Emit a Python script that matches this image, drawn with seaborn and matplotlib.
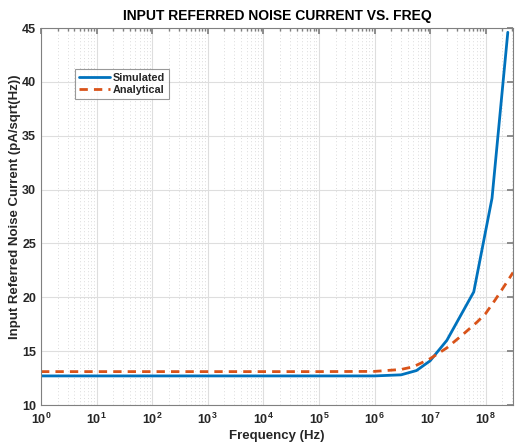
import numpy as np
import pandas as pd
import matplotlib
matplotlib.use("Agg")
import matplotlib.pyplot as plt
import seaborn as sns
from matplotlib.ticker import FixedLocator, NullFormatter, NullLocator, LogFormatterSciNotation

sim_freq = [1, 1e1, 1e2, 1e3, 1e4, 1e5, 1e6, 3e6, 5.7e6, 1e7, 2e7, 6.1e7, 1.3e8, 2.5e8]
sim_val = [12.7, 12.7, 12.7, 12.7, 12.7, 12.7, 12.7, 12.8, 13.2, 14.1, 16.0, 20.5, 29.2, 44.6]

ana_freq = [1, 1e1, 1e2, 1e3, 1e4, 1e5, 1e6, 3e6, 5e6, 1e7, 2e7, 4e7, 7e7, 1e8, 1.5e8, 2.4e8, 3.1e8]
ana_val = [13.1, 13.1, 13.1, 13.1, 13.1, 13.1, 13.12, 13.3, 13.55, 14.3, 15.3, 16.6, 17.7, 18.5, 19.8, 21.4, 22.3]

yticks = [10, 15, 20, 25, 30, 35, 40, 45]
xticks = [1, 1e1, 1e2, 1e3, 1e4, 1e5, 1e6, 1e7, 1e8]

df = pd.concat([
    pd.DataFrame({"f": sim_freq, "v": sim_val, "s": "Simulated"}),
    pd.DataFrame({"f": ana_freq, "v": ana_val, "s": "Analytical"}),
])

sns.set_theme(style="white")
plt.rcParams['font.family'] = ['Liberation Sans', 'DejaVu Sans']

fig = plt.figure(figsize=(5.15, 4.45), dpi=100)
ax = fig.add_axes([41/515, 1 - 405/445, (513-41)/515, (405-28)/445])

sns.lineplot(data=df, x="f", y="v", hue="s", style="s",
             palette={"Simulated": "#0072BD", "Analytical": "#D95319"},
             dashes={"Simulated": "", "Analytical": (3, 2.2)},
             linewidth=2, ax=ax, legend=True)

ax.set_xscale("log")
ax.set_xlim(1, 3.1e8)
ax.set_ylim(10, 45)
ax.set_yticks(yticks)
ax.xaxis.set_major_locator(FixedLocator(xticks))
ax.xaxis.set_major_formatter(LogFormatterSciNotation())
minor = [m * t for t in xticks for m in range(2, 10) if m * t <= 3.1e8]
ax.xaxis.set_minor_locator(FixedLocator(minor))
ax.xaxis.set_minor_formatter(NullFormatter())
ax.yaxis.set_minor_locator(NullLocator())

ax.grid(True, which="major", color="#dedede", linewidth=0.8, linestyle="-")
ax.grid(True, which="minor", axis="x", color="#cfcfcf", linewidth=0.6, linestyle=(0, (1, 3)))
ax.set_axisbelow(True)

for sp in ax.spines.values():
    sp.set_color("#808080")
    sp.set_linewidth(0.8)
ax.tick_params(which="both", direction="in", top=True, right=True, colors="#808080",
               labelcolor="#262626", labelsize=9)
ax.tick_params(which="major", length=4)
ax.tick_params(which="minor", length=2)
ax.tick_params(axis="x", which="major", pad=5)
for lab in ax.get_xticklabels() + ax.get_yticklabels():
    lab.set_fontweight("bold")

ax.set_xlabel("Frequency (Hz)", fontsize=9.5, fontweight="bold", color="#262626", labelpad=2)
ax.set_ylabel("Input Referred Noise Current (pA/sqrt(Hz))", fontsize=9.5, fontweight="bold",
              color="#262626")
ax.yaxis.set_label_coords(-0.042, 0.525)
ax.set_title("INPUT REFERRED NOISE CURRENT VS. FREQ", fontsize=10, fontweight="bold",
             color="black", pad=6)

handles, labels = ax.get_legend_handles_labels()
leg = ax.legend(handles, labels, loc="upper left", bbox_to_anchor=(0.06, 0.905),
                frameon=True, fancybox=False, edgecolor="#808080", fontsize=7.8,
                handlelength=2.9, borderpad=0.35, labelspacing=0.2, handletextpad=0.3)
leg.get_frame().set_linewidth(0.8)
for t in leg.get_texts():
    t.set_fontweight("bold")

fig.savefig("out.png", dpi=100)
